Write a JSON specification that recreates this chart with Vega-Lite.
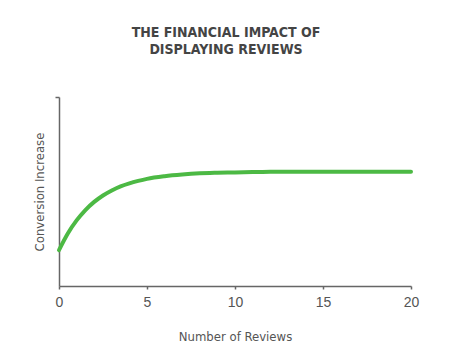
{
  "$schema": "https://vega.github.io/schema/vega-lite/v6.json",
  "width": 352,
  "height": 189,
  "autosize": {"type": "none"},
  "padding": {"left": 59, "top": 97, "right": 39, "bottom": 76},
  "background": "white",
  "config": {"view": {"stroke": null}},
  "title": {
    "text": ["THE FINANCIAL IMPACT OF", "DISPLAYING REVIEWS"],
    "font": "'DejaVu Sans Condensed', 'Liberation Sans', sans-serif",
    "fontSize": 14,
    "fontWeight": "bold",
    "color": "#444444",
    "lineHeight": 17,
    "anchor": "middle",
    "baseline": "alphabetic",
    "offset": 28,
    "dx": -9
  },
  "data": {
    "values": [
      {"reviews": 0, "conversion": 0.19},
      {"reviews": 0.5, "conversion": 0.278},
      {"reviews": 1, "conversion": 0.347},
      {"reviews": 1.5, "conversion": 0.402},
      {"reviews": 2, "conversion": 0.445},
      {"reviews": 2.5, "conversion": 0.479},
      {"reviews": 3, "conversion": 0.5055},
      {"reviews": 3.5, "conversion": 0.527},
      {"reviews": 4, "conversion": 0.543},
      {"reviews": 4.5, "conversion": 0.556},
      {"reviews": 5, "conversion": 0.567},
      {"reviews": 6, "conversion": 0.581},
      {"reviews": 7, "conversion": 0.59},
      {"reviews": 8, "conversion": 0.596},
      {"reviews": 9, "conversion": 0.599},
      {"reviews": 10, "conversion": 0.601},
      {"reviews": 11, "conversion": 0.603},
      {"reviews": 12, "conversion": 0.604},
      {"reviews": 14, "conversion": 0.605},
      {"reviews": 16, "conversion": 0.605},
      {"reviews": 18, "conversion": 0.605},
      {"reviews": 20, "conversion": 0.605}
    ]
  },
  "mark": {"type": "line", "interpolate": "monotone", "color": "#4cb944", "strokeWidth": 4, "strokeCap": "round"},
  "encoding": {
    "x": {
      "field": "reviews",
      "type": "quantitative",
      "scale": {"domain": [0, 20], "nice": false},
      "axis": {
        "title": "Number of Reviews",
        "values": [0, 5, 10, 15, 20],
        "grid": false,
        "domainColor": "#666666",
        "domainWidth": 1.5,
        "tickColor": "#666666",
        "tickWidth": 1.5,
        "tickSize": 3,
        "labelFont": "Liberation Sans",
        "labelFontSize": 14,
        "labelColor": "#555555",
        "labelPadding": 6,
        "labelFlush": false,
        "titleFont": "'DejaVu Sans Condensed', 'Liberation Sans', sans-serif",
        "titleFontSize": 13,
        "titleFontWeight": "normal",
        "titleColor": "#555555",
        "titlePadding": 21
      }
    },
    "y": {
      "field": "conversion",
      "type": "quantitative",
      "scale": {"domain": [0, 1], "nice": false},
      "axis": {
        "title": "Conversion Increase",
        "values": [1],
        "labels": false,
        "grid": false,
        "domainColor": "#666666",
        "domainWidth": 1.5,
        "tickColor": "#666666",
        "tickWidth": 1.5,
        "tickSize": 4,
        "titleFont": "'DejaVu Sans Condensed', 'Liberation Sans', sans-serif",
        "titleFontSize": 13,
        "titleFontWeight": "normal",
        "titleColor": "#555555",
        "titlePadding": 8
      }
    }
  }
}
